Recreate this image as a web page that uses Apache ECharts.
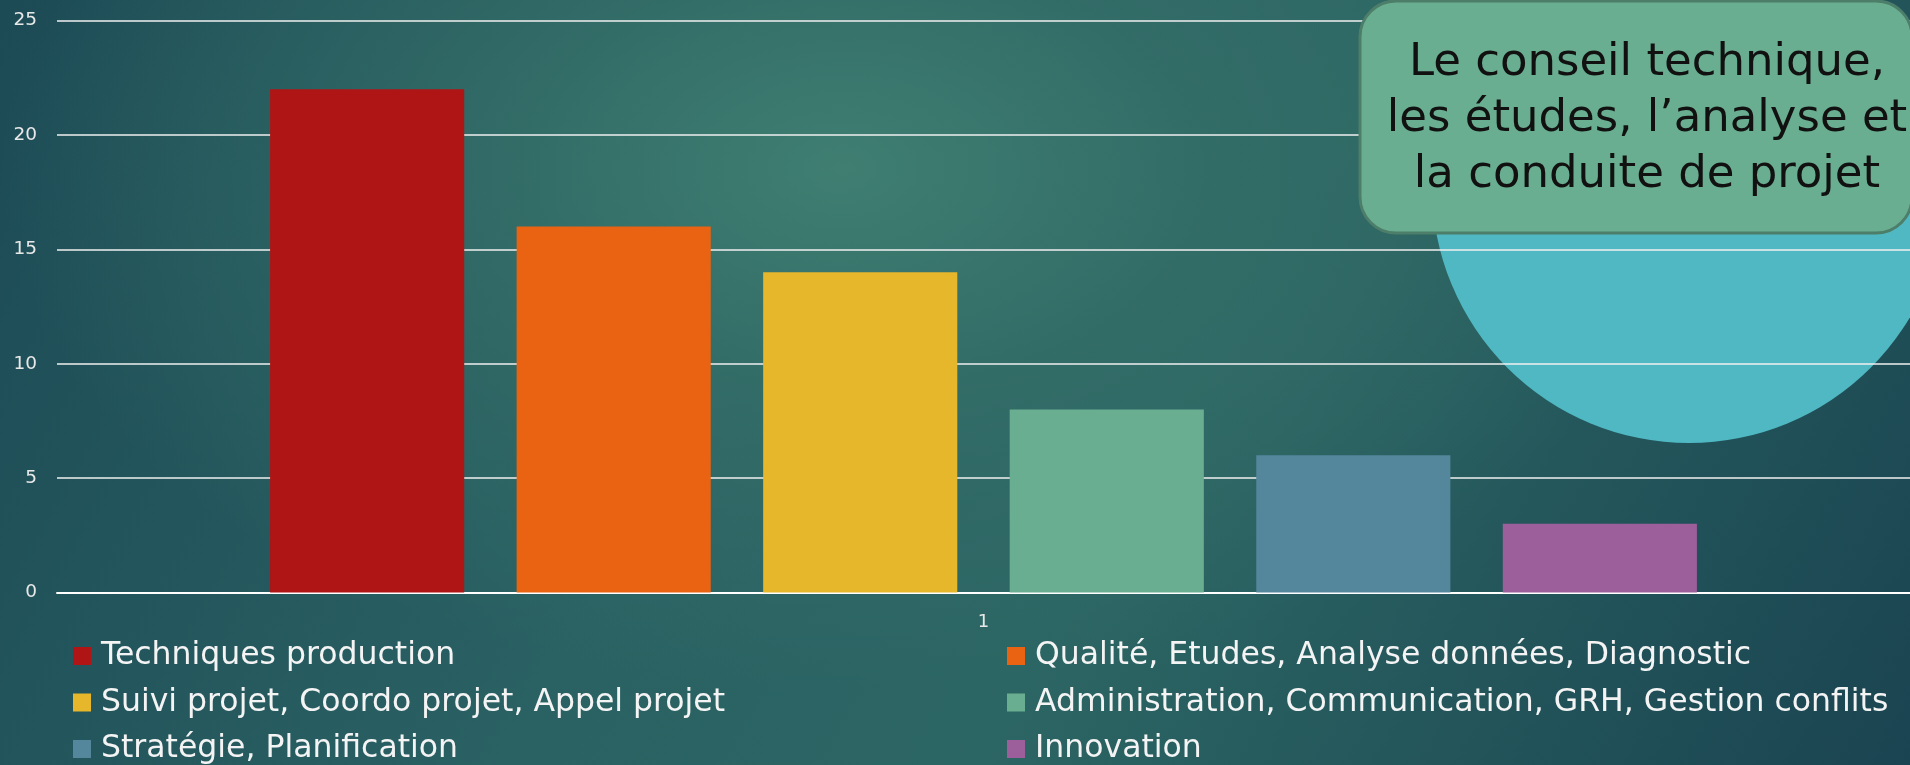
<!DOCTYPE html>
<html>
<head>
<meta charset="utf-8">
<script src="https://cdn.jsdelivr.net/npm/echarts@6/dist/echarts.min.js"></script>
<style>
  html, body { margin: 0; padding: 0; }
  body {
    width: 1910px; height: 765px; overflow: hidden;
    background:
      radial-gradient(ellipse 55% 85% at 44% 22%, rgba(64,128,114,0.95) 0%, rgba(52,110,104,0.8) 35%, rgba(40,90,94,0) 80%),
      linear-gradient(120deg, #1c4a55 0%, #2a6163 40%, #2c6664 60%, #1a4451 100%);
  }
  #chart { width: 1910px; height: 765px; }
</style>
</head>
<body>
<div id="chart"></div>
<script>
// Category on the x axis (single group)
const categories = ['1'];

// Skill families and their counts
const seriesNames = [
  'Techniques production',
  'Qualité, Etudes, Analyse données, Diagnostic',
  'Suivi projet, Coordo projet, Appel projet',
  'Administration, Communication, GRH, Gestion conflits',
  'Stratégie, Planification',
  'Innovation'
];
const seriesValues = [22, 16, 14, 8, 6, 3];
const seriesColors = ['#b01515', '#e96312', '#e6b72a', '#6aae91', '#54869c', '#9c5f9c'];

// Value axis ticks
const yMin = 0, yMax = 25, yStep = 5;

// Callout text
const calloutLines = ['Le conseil technique,', 'les études, l’analyse et', 'la conduite de projet'];

const FONT = '"DejaVu Sans", "Noto Sans", sans-serif';

const chart = echarts.init(document.getElementById('chart'), null, { renderer: 'canvas' });

const series = seriesNames.map((name, i) => ({
  name: name,
  type: 'bar',
  data: [seriesValues[i]],
  itemStyle: { color: seriesColors[i] },
  barGap: '27%',
  barCategoryGap: '23%'
}));

const legendText = { color: '#f4f4f4', fontSize: 31.5, fontFamily: FONT, padding: [0, 0, 0, 5] };

// Legend laid out as two columns of three entries
function columnLegend(names, left) {
  return {
    data: names,
    orient: 'vertical', left: left, top: 640, height: 160, padding: 0,
    icon: 'rect', itemWidth: 18, itemHeight: 18, itemGap: 14.5,
    textStyle: legendText, selectedMode: false
  };
}

chart.setOption({
  backgroundColor: 'transparent',
  animation: false,
  grid: { left: 57, right: 0, top: 20.5, bottom: 172.5, containLabel: false },
  xAxis: {
    type: 'category',
    data: categories,
    axisLine: { lineStyle: { color: '#ffffff', width: 2 } },
    axisTick: { show: false },
    axisLabel: { color: '#e8e8e8', fontSize: 18, fontFamily: FONT, margin: 21 }
  },
  yAxis: {
    type: 'value',
    min: yMin, max: yMax, interval: yStep,
    axisLine: { show: false },
    axisTick: { show: false },
    axisLabel: { color: '#e8e8e8', fontSize: 18.5, fontFamily: FONT, margin: 20 },
    splitLine: { lineStyle: { color: '#f0f0f0', width: 1.5 } }
  },
  legend: [
    columnLegend([seriesNames[0], seriesNames[2], seriesNames[4]], 73),
    columnLegend([seriesNames[1], seriesNames[3], seriesNames[5]], 1007)
  ],
  graphic: [
    {
      type: 'circle', z: -1,
      shape: { cx: 1689, cy: 186, r: 257 },
      style: { fill: '#4fb8c3' }
    },
    {
      type: 'rect', z: 10,
      shape: { x: 1360, y: 1, width: 552, height: 232, r: 36 },
      style: { fill: '#6aae91', stroke: '#4c7e69', lineWidth: 3 }
    },
    {
      type: 'text', z: 11,
      x: 1647, y: 119,
      style: {
        text: calloutLines.join('\n'),
        fill: '#111111',
        fontSize: 45,
        fontFamily: FONT,
        lineHeight: 56,
        align: 'center',
        verticalAlign: 'middle'
      }
    }
  ],
  series: series
});
</script>
</body>
</html>
